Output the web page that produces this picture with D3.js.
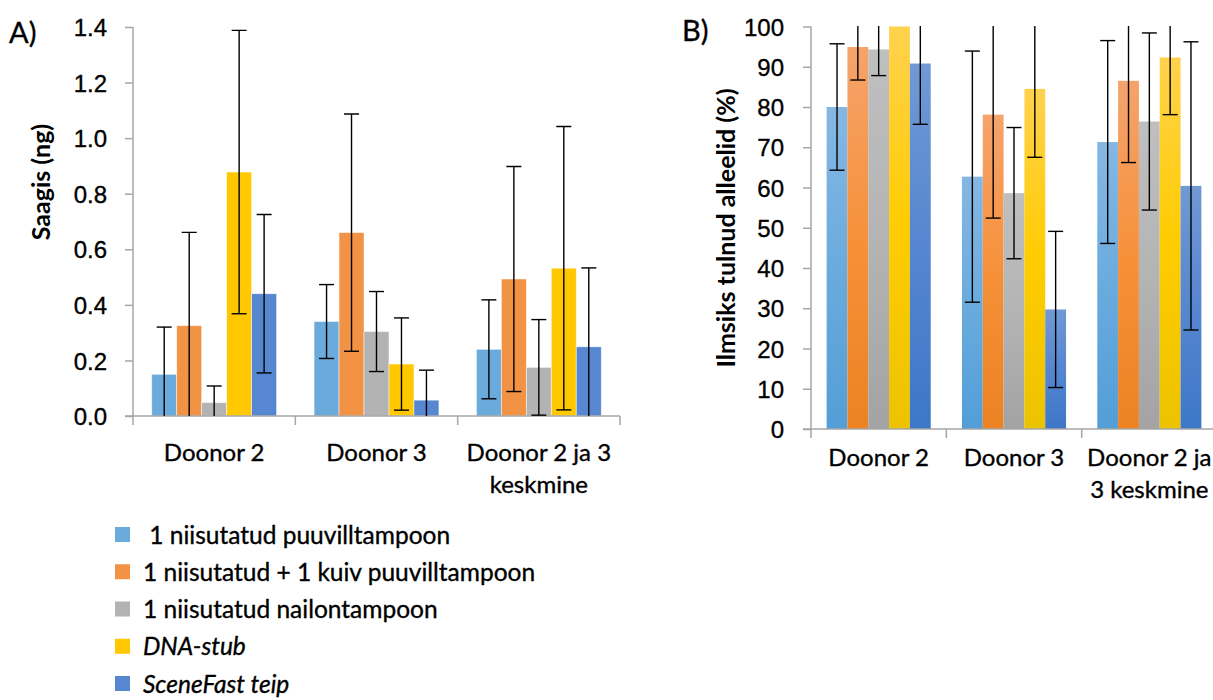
<!DOCTYPE html>
<html>
<head>
<meta charset="utf-8">
<script src="https://cdn.jsdelivr.net/npm/d3@7"></script>
<style>
  html, body { margin: 0; padding: 0; background: #fff; }
  svg { display: block; font-family: Lato, "Open Sans", sans-serif; }
  text { fill: #000; }
  .reg { stroke: #000; stroke-width: 0.35px; }
</style>
</head>
<body>
<svg id="chart" width="1213" height="700"></svg>
<script>
// Shared categories and series
const seriesNames = [
  " 1 niisutatud puuvilltampoon",
  "1 niisutatud + 1 kuiv puuvilltampoon",
  "1 niisutatud nailontampoon",
  "DNA-stub",
  "SceneFast teip"
];
const seriesItalic = [false, false, false, true, true];
const categories = ["Doonor 2", "Doonor 3", "Doonor 2 ja 3 keskmine"];
const labelLinesA = [["Doonor 2"], ["Doonor 3"], ["Doonor 2 ja 3", "keskmine"]];
const labelLinesB = [["Doonor 2"], ["Doonor 3"], ["Doonor 2 ja", "3 keskmine"]];

// A) yield (ng), per series across the three categories, with error sizes
const yieldCotton    = [0.15, 0.34, 0.24];
const yieldCottonErr = [0.17, 0.133, 0.178];
const yieldCottonDry    = [0.325, 0.66, 0.493];
const yieldCottonDryErr = [0.336, 0.427, 0.405];
const yieldNylon    = [0.048, 0.304, 0.175];
const yieldNylonErr = [0.06, 0.144, 0.172];
const yieldStub    = [0.878, 0.187, 0.532];
const yieldStubErr = [0.51, 0.166, 0.51];
const yieldTape    = [0.44, 0.057, 0.249];
const yieldTapeErr = [0.285, 0.108, 0.284];

// B) alleles recovered (%)
const allelesCotton    = [80.0, 62.7, 71.3];
const allelesCottonErr = [15.7, 31.2, 25.2];
const allelesCottonDry    = [94.9, 78.1, 86.5];
const allelesCottonDryErr = [8.2, 25.7, 20.3];
const allelesNylon    = [94.3, 58.6, 76.4];
const allelesNylonErr = [6.5, 16.3, 22.0];
const allelesStub    = [100, 84.5, 92.3];
const allelesStubErr = [0, 17.0, 14.2];
const allelesTape    = [90.8, 29.7, 60.4];
const allelesTapeErr = [15.1, 19.4, 35.8];

const yTicksA = [0, 0.2, 0.4, 0.6, 0.8, 1.0, 1.2, 1.4];
const yTicksB = [0, 10, 20, 30, 40, 50, 60, 70, 80, 90, 100];

// Styling
const flatColors = ["#6aabdb", "#f29244", "#b3b3b3", "#ffc800", "#5687d0"];
const gradTop    = ["#86b7e3", "#f5a36c", "#bfbfbf", "#ffd24e", "#7099d5"];
const gradMid    = ["#6aabde", "#f6913a", "#b4b4b4", "#ffcc00", "#5686d0"];
const gradBottom = ["#539ed7", "#ec8222", "#a3a3a3", "#ecc300", "#3d77c8"];
const axisColor = "#a6a6a6";

const svg = d3.select("#chart");
const defs = svg.append("defs");

gradTop.forEach((c, i) => {
  const g = defs.append("linearGradient")
    .attr("id", "grad" + i)
    .attr("x1", 0).attr("y1", 0).attr("x2", 0).attr("y2", 1);
  g.append("stop").attr("offset", "0%").attr("stop-color", c);
  g.append("stop").attr("offset", "50%").attr("stop-color", gradMid[i]);
  g.append("stop").attr("offset", "100%").attr("stop-color", gradBottom[i]);
});

function buildSeries(values, errs) {
  return seriesNames.map((name, i) => ({ name, index: i, values: values[i], errs: errs[i] }));
}

function drawPanel(opt) {
  const { left, right, top, bottom, yMax, ticks, tickFormat, series, labelLines,
          fillFn, barStroke, id, title, titleX, titleY, tickLabelRight, xLabelY } = opt;

  const x = d3.scaleBand().domain(categories).range([left, right]).paddingInner(0).paddingOuter(0);
  const xs = d3.scaleBand().domain(d3.range(seriesNames.length))
    .range([0, x.bandwidth()]).paddingInner(0).paddingOuter(0.75);
  const y = d3.scaleLinear().domain([0, yMax]).range([bottom, top]);

  const g = svg.append("g");

  defs.append("clipPath").attr("id", "clip" + id)
    .append("rect").attr("x", left).attr("y", top - 0.5)
    .attr("width", right - left).attr("height", bottom - top + 0.5);

  // bars
  const barsG = g.append("g");
  series.forEach(s => {
    barsG.selectAll(null).data(categories).enter().append("rect")
      .attr("x", (c) => x(c) + xs(s.index))
      .attr("width", xs.bandwidth())
      .attr("y", (c, j) => y(s.values[j]))
      .attr("height", (c, j) => bottom - y(s.values[j]))
      .attr("fill", fillFn(s.index))
      .attr("stroke", barStroke)
      .attr("stroke-width", barStroke === "none" ? 0 : 0.8);
  });

  // y axis
  const yAxis = d3.axisLeft(y).tickValues(ticks).tickFormat(tickFormat).tickSize(8).tickPadding(5);
  const ya = g.append("g").attr("transform", `translate(${left},0)`).call(yAxis);
  ya.select(".domain").attr("stroke", axisColor).attr("stroke-width", 1.5).attr("d", `M0,${top}V${bottom}`);
  ya.selectAll(".tick line").attr("stroke", axisColor).attr("stroke-width", 1.5);
  ya.selectAll(".tick text")
    .attr("class", "reg")
    .attr("x", tickLabelRight - left)
    .attr("dy", "0.36em")
    .style("font-size", "24px")
    .style("fill", "#000");

  // x axis with ticks at category boundaries
  const xa = g.append("g");
  xa.append("line").attr("x1", left - 8).attr("x2", right).attr("y1", bottom).attr("y2", bottom)
    .attr("stroke", axisColor).attr("stroke-width", 1.5);
  const bounds = categories.map(c => x(c)).concat([x(categories[categories.length - 1]) + x.bandwidth()]);
  xa.selectAll(null).data(bounds).enter().append("line")
    .attr("x1", d => d).attr("x2", d => d)
    .attr("y1", bottom).attr("y2", bottom + 9)
    .attr("stroke", axisColor).attr("stroke-width", 1.5);

  categories.forEach((c, j) => {
    const t = xa.append("text")
      .attr("class", "reg")
      .attr("x", x(c) + x.bandwidth() / 2)
      .attr("y", xLabelY)
      .attr("text-anchor", "middle")
      .style("font-size", "24px");
    labelLines[j].forEach((line, k) => {
      t.append("tspan").attr("x", x(c) + x.bandwidth() / 2).attr("dy", k === 0 ? 0 : 32).text(line);
    });
  });

  // error bars
  const eg = g.append("g").attr("clip-path", `url(#clip${id})`);
  const cap = 7.5;
  series.forEach(s => {
    categories.forEach((c, j) => {
      const e = s.errs[j];
      if (!e) return;
      const cx = x(c) + xs(s.index) + xs.bandwidth() / 2;
      const v = s.values[j];
      const yHi = y(v + e), yLo = y(v - e);
      eg.append("line").attr("x1", cx).attr("x2", cx).attr("y1", yHi).attr("y2", yLo)
        .attr("stroke", "#000").attr("stroke-width", 1.4);
      [yHi, yLo].forEach(yy => {
        eg.append("line").attr("x1", cx - cap).attr("x2", cx + cap).attr("y1", yy).attr("y2", yy)
          .attr("stroke", "#000").attr("stroke-width", 1.4);
      });
    });
  });

  // axis title
  svg.append("text")
    .attr("transform", `translate(${titleX},${titleY}) rotate(-90)`)
    .attr("text-anchor", "middle")
    .style("font-size", "25px")
    .style("font-weight", "bold")
    .text(title);
}

// Panel A
drawPanel({
  id: "A",
  left: 133, right: 620, top: 27, bottom: 416,
  yMax: 1.4, ticks: yTicksA, tickFormat: d3.format(".1f"),
  series: buildSeries(
    [yieldCotton, yieldCottonDry, yieldNylon, yieldStub, yieldTape],
    [yieldCottonErr, yieldCottonDryErr, yieldNylonErr, yieldStubErr, yieldTapeErr]),
  labelLines: labelLinesA,
  fillFn: i => flatColors[i],
  barStroke: "rgba(255,255,255,0.6)",
  title: "Saagis (ng)", titleX: 50, titleY: 182,
  tickLabelRight: 107, xLabelY: 461
});

// Panel B
drawPanel({
  id: "B",
  left: 811, right: 1217, top: 26.5, bottom: 429,
  yMax: 100, ticks: yTicksB, tickFormat: d3.format("d"),
  series: buildSeries(
    [allelesCotton, allelesCottonDry, allelesNylon, allelesStub, allelesTape],
    [allelesCottonErr, allelesCottonDryErr, allelesNylonErr, allelesStubErr, allelesTapeErr]),
  labelLines: labelLinesB,
  fillFn: i => `url(#grad${i})`,
  barStroke: "none",
  title: "Ilmsiks tulnud alleelid (%)", titleX: 735, titleY: 228,
  tickLabelRight: 784, xLabelY: 466
});

// Panel letters
svg.append("text").attr("class", "reg").attr("x", 9).attr("y", 43).style("font-size", "29px").text("A)");
svg.append("text").attr("class", "reg").attr("x", 682).attr("y", 41).style("font-size", "29px").text("B)");

// Legend
const legend = svg.append("g");
const rowY = d3.scalePoint().domain(d3.range(seriesNames.length)).range([535, 684]);
seriesNames.forEach((name, i) => {
  legend.append("rect").attr("x", 115).attr("y", rowY(i) - 8).attr("width", 15).attr("height", 15)
    .attr("fill", flatColors[i]);
  legend.append("text").attr("class", "reg").attr("x", 143).attr("y", rowY(i)).attr("dy", "0.35em")
    .style("font-size", "24.5px")
    .style("font-style", seriesItalic[i] ? "italic" : "normal")
    .style("white-space", "pre")
    .text(name);
});
</script>
</body>
</html>
